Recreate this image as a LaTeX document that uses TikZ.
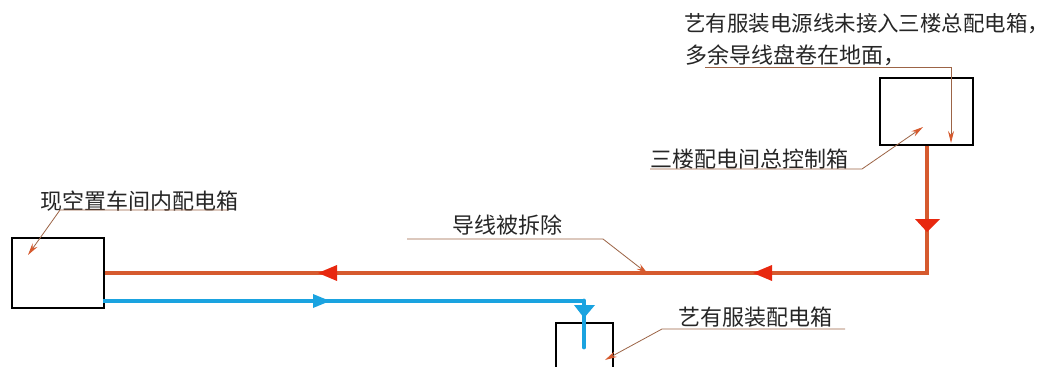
\documentclass[tikz,border=0pt]{standalone}
\usepackage{fontspec}
\newfontfamily\cjk{Noto Sans CJK SC}
\usetikzlibrary{arrows.meta}
\definecolor{wire}{HTML}{D65A2E}
\definecolor{tri}{HTML}{E8280F}
\definecolor{bluewire}{HTML}{1AA3E0}
\definecolor{lead}{HTML}{9C6446}
\tikzset{
  box/.style={draw=black, line width=0.8pt, fill=white, inner sep=0pt},
  label/.style={anchor=west, inner sep=0pt, font=\cjk\fontsize{16.5}{17}\selectfont, text=black!85},
  redwire/.style={draw=wire, line width=3.7pt},
  bluewirestyle/.style={draw=bluewire, line width=3.7pt},
  leader/.style={draw=lead, line width=0.6pt, -{Stealth[length=9pt,width=4.5pt,color=wire]}},
}
\begin{document}
\begin{tikzpicture}[x=0.75pt,y=-0.75pt]
\clip (0,0) rectangle (1059,367);
\fill[white] (0,0) rectangle (1059,367);
% boxes
\node[box, minimum width=69pt, minimum height=52.5pt] (boxA) at (58,273) {};
\node[box, minimum width=69.75pt, minimum height=50.25pt] (boxB) at (926.5,111.5) {};
\node[box, minimum width=42.75pt, minimum height=55.5pt] (boxC) at (584.5,360) {};
% wires
\coordinate (corner) at (927,273);
\coordinate (bturn) at (584,301);
\coordinate (bend) at (584,347);
\coordinate (bstart) at (103,301);
\draw[redwire, line join=miter] (boxB.south -| corner) -- (corner) -- (boxA.east |- corner);
\draw[bluewirestyle] (bstart) -- (bturn);
\draw[bluewirestyle, line cap=round] (bturn) -- (bend);
% direction triangles
\fill[tri] (753,273) -- (772,265) -- (772,281) -- cycle;
\fill[tri] (318,273) -- (337,265) -- (337,281) -- cycle;
\fill[tri] (915,219) -- (940,219) -- (927,232) -- cycle;
\fill[bluewire] (330,301) -- (313,294) -- (313,308) -- cycle;
\fill[bluewire] (574,305) -- (595,305) -- (584,318) -- cycle;
% labels
\node[label, font=\cjk\fontsize{16.1}{17}\selectfont] (t1) at (684,24) {艺有服装电源线未接入三楼总配电箱，};
\node[label] (t2) at (685,55) {多余导线盘卷在地面，};
\node[label] (t3) at (650,159) {三楼配电间总控制箱};
\node[label] (t4) at (452,225) {导线被拆除};
\node[label] (t5) at (678,317) {艺有服装配电箱};
\node[label] (t6) at (40,201) {现空置车间内配电箱};
% leaders
\coordinate (l1a) at (705,67);
\coordinate (l1b) at (951,67);
\coordinate (l1c) at (951,143);
\draw[leader] (l1a) -- (l1b) -- (l1c);
\coordinate (l3a) at (650,169);
\coordinate (l3b) at (862,169);
\coordinate (l3c) at (923,127);
\draw[leader] (l3a) -- (l3b) -- (l3c);
\coordinate (l4a) at (407,239);
\coordinate (l4b) at (603,239);
\coordinate (l4c) at (648,274);
\draw[leader] (l4a) -- (l4b) -- (l4c);
\coordinate (l5a) at (845,329);
\coordinate (l5b) at (662,329);
\coordinate (l5c) at (605,360);
\draw[leader] (l5a) -- (l5b) -- (l5c);
\coordinate (l6a) at (228,210);
\coordinate (l6b) at (60,210);
\coordinate (l6c) at (28,255);
\draw[leader] (l6a) -- (l6b) -- (l6c);
\end{tikzpicture}
\end{document}
